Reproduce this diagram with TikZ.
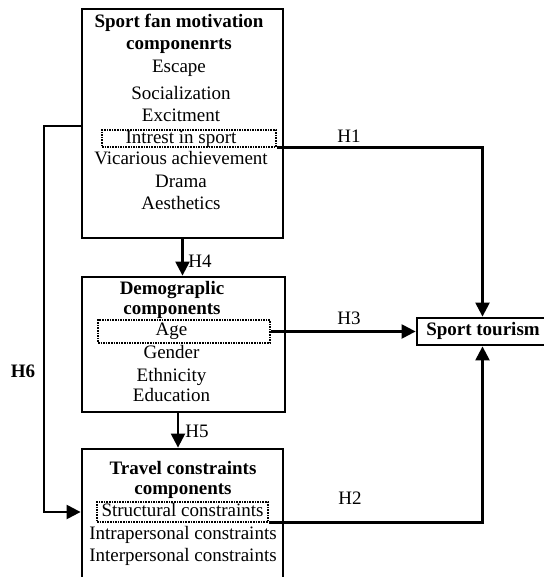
\documentclass[tikz,border=0pt]{standalone}
\usepackage{fontspec}
\setmainfont{Liberation Serif}
\usetikzlibrary{arrows.meta}

\begin{document}
\begin{tikzpicture}[x=1pt, y=-1pt,
    every node/.style={font=\fontsize{19}{22}\selectfont, inner sep=0pt, text height=12.5pt, text depth=4pt},
    box/.style={draw, line width=2.8pt, rectangle},
    dotbox/.style={draw, line width=1.2pt, dash pattern=on 1.6pt off 1pt, rectangle},
    link/.style={line width=2.3pt, -{Triangle[length=14pt,width=14pt]}}]
    \useasboundingbox (0,0) rectangle (543,577);
    % Motivation box
    \node[box, minimum width=201pt, minimum height=229pt] (fan) at (182.5,123.5) {};
    \node (fant1) at (179,23) {\bfseries Sport fan motivation};
    \node (fant2) at (179,45) {\bfseries componenrts};
    \node (escape) at (179,68) {Escape};
    \node (social) at (181,95) {Socialization};
    \node (excit) at (181,117) {Excitment};
    \node[dotbox, minimum width=174pt, minimum height=17pt, text height=0pt, text depth=0pt] (intrest) at (189,138.5) {};
    \node (intrestt) at (181,139) {Intrest in sport};
    \node (vicar) at (181,160) {Vicarious achievement};
    \node (drama) at (181,183) {Drama};
    \node (aesth) at (181,205) {Aesthetics};
    % Demographic box
    \node[box, minimum width=203pt, minimum height=135pt] (demo) at (183.5,344.5) {};
    \node (demot1) at (172,290) {\bfseries Demograplic};
    \node (demot2) at (172,310) {\bfseries components};
    \node[dotbox, minimum width=172pt, minimum height=23pt, text height=0pt, text depth=0pt] (age) at (184,331.5) {};
    \node (aget) at (171.5,331) {Age};
    \node (gender) at (171.5,354) {Gender};
    \node (ethnic) at (171.5,377) {Ethnicity};
    \node (educ) at (171.5,397) {Education};
    % Travel constraints box
    \node[box, minimum width=201pt, minimum height=136pt] (trav) at (182.5,517) {};
    \node (travt1) at (183,470) {\bfseries Travel constraints};
    \node (travt2) at (183,490) {\bfseries components};
    \node[dotbox, minimum width=171pt, minimum height=20pt, text height=0pt, text depth=0pt] (struct) at (182.5,512) {};
    \node (structt) at (182.5,512) {Structural constraints};
    \node (intra) at (183,535) {Intrapersonal constraints};
    \node (inter) at (183,557) {Interpersonal constraints};
    % Sport tourism
    \node[box, minimum width=131pt, minimum height=27pt, text height=0pt, text depth=0pt] (tour) at (482.5,331.5) {};
    \node (tourt) at (483,331.5) {\bfseries Sport tourism};
    % Hypotheses
    \draw[link] (intrest.south east) -| (tour.north);
    \draw[link] (age.east) -- (tour.west);
    \draw[link] (struct.south east) -| (tour.south);
    \draw[link] (fan.south) -- (fan.south |- demo.north);
    \draw[link] ([xshift=-5.5pt]demo.south) -- ([xshift=-5.5pt]demo.south |- trav.north);
    \coordinate (h6turn) at (44,126);
    \draw[link] (fan.west |- h6turn) -- (h6turn) |- (trav.west |- struct.west);
    \node (h1) at (349,138) {H1};
    \node (h3) at (349,320) {H3};
    \node (h2) at (350,500) {H2};
    \node (h4) at (200,263) {H4};
    \node (h5) at (197,433) {H5};
    \node (h6) at (23,373) {\bfseries H6};
\end{tikzpicture}
\end{document}
